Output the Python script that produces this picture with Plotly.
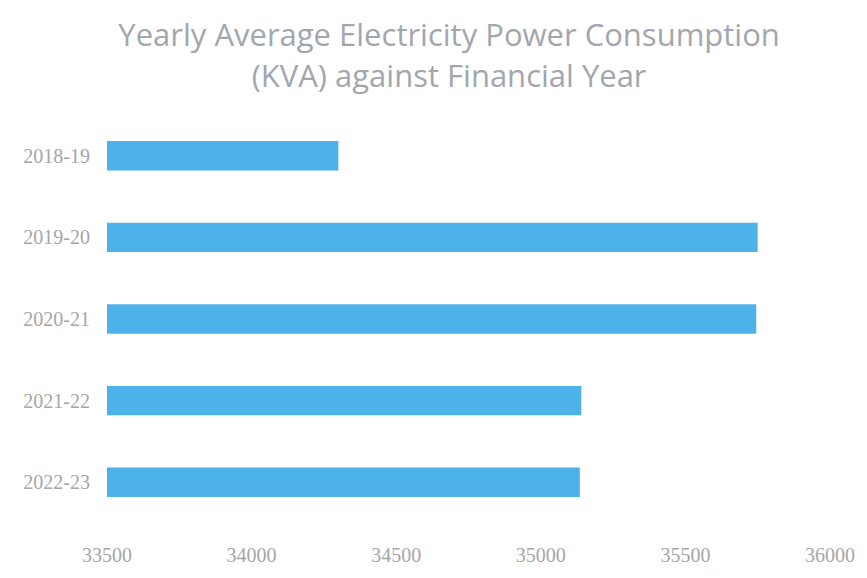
import plotly.graph_objects as go

# Financial years and yearly average power demand (KVA)
years = ["2018-19", "2019-20", "2020-21", "2021-22", "2022-23"]
kva = [34300, 35750, 35745, 35140, 35135]
x_ticks = [33500, 34000, 34500, 35000, 35500, 36000]
axis_start = 33500

fig = go.Figure(
    go.Bar(
        x=[v - axis_start for v in kva],
        y=years,
        base=axis_start,
        orientation="h",
        marker=dict(color="#4db2ea", line=dict(width=0)),
        width=0.36,
        customdata=kva,
        hovertemplate="%{y}: %{customdata} KVA<extra></extra>",
    )
)

fig.update_layout(
    width=867,
    height=578,
    paper_bgcolor="white",
    plot_bgcolor="white",
    margin=dict(l=107, r=32, t=115, b=50),
    showlegend=False,
    title=dict(
        text="Yearly Average Electricity Power Consumption<br>(KVA) against Financial Year",
        x=0.518,
        xanchor="center",
        y=0.92,
        yanchor="middle",
        font=dict(family="Open Sans", size=31, color="#a3a6ae"),
    ),
    xaxis=dict(
        range=[33500, 36000],
        tickvals=x_ticks,
        ticktext=[str(t) for t in x_ticks],
        showgrid=False,
        zeroline=False,
        showline=False,
        ticks="",
        ticklabelstandoff=18,
        tickfont=dict(family="Liberation Serif", size=20, color="#a6a6a6"),
    ),
    yaxis=dict(
        categoryorder="array",
        categoryarray=years[::-1],
        showgrid=False,
        zeroline=False,
        showline=False,
        ticks="",
        ticklabelstandoff=16,
        tickfont=dict(family="Liberation Serif", size=20, color="#a6a6a6"),
    ),
)

fig.write_html("out.html")
